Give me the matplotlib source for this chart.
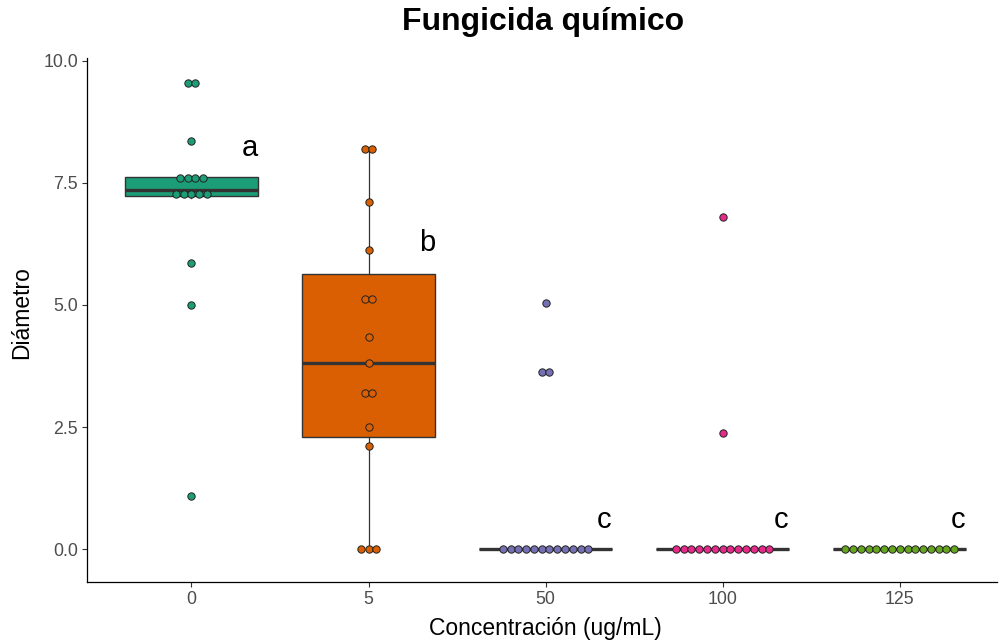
# Boxplot + dotplot of diameter vs. fungicide concentration

import numpy as np
import matplotlib
matplotlib.use('Agg')
import matplotlib.pyplot as plt

plt.rcParams['font.family'] = ['Liberation Sans', 'DejaVu Sans']

# groups and values
conc = ['0', '5', '50', '100', '125']
colors = ['#1B9E77', '#D95F02', '#7570B3', '#E7298A', '#66A61E']

d_0 = [1.08, 5.0, 5.85, 7.2, 7.25, 7.3, 7.35, 7.35, 7.55, 7.6, 7.6, 7.65, 8.35, 9.55, 9.55]
d_5 = [0, 0, 0, 2.12, 2.49, 3.2, 3.2, 3.82, 4.34, 5.12, 5.12, 6.13, 7.1, 8.2, 8.2]
d_50 = [0] * 12 + [3.63, 3.63, 5.05]
d_100 = [0] * 13 + [2.38, 6.81]
d_125 = [0] * 15
data = [d_0, d_5, d_50, d_100, d_125]

# letters of the mean comparison
letters = ['a', 'b', 'c', 'c', 'c']
letter_y = [8.05, 6.11, 0.43, 0.43, 0.43]

binwidth = 0.3
dot_step = 0.044  # horizontal spacing of stacked dots (x units)


def dot_bins(vals):
    # simple dot-density binning like geom_dotplot(binaxis='y')
    vals = sorted(vals)
    bins = []
    cur = [vals[0]]
    for v in vals[1:]:
        if v - cur[0] <= binwidth:
            cur.append(v)
        else:
            bins.append(cur)
            cur = [v]
    bins.append(cur)
    return [((b[0] + b[-1]) / 2.0, len(b)) for b in bins]


fig = plt.figure(figsize=(9.99, 6.41), dpi=100)
ax = fig.add_axes([0.0871, 0.092, 0.911, 0.8175])

pos = np.arange(len(conc))
bp = ax.boxplot(data, positions=pos, widths=0.75, patch_artist=True,
                showfliers=False, whis=1.5,
                boxprops=dict(edgecolor='#333333', linewidth=1.0),
                medianprops=dict(color='#333333', linewidth=2.4),
                whiskerprops=dict(color='#333333', linewidth=0.9),
                capprops=dict(linewidth=0), zorder=2)
for patch, c in zip(bp['boxes'], colors):
    patch.set_facecolor(c)

for i, vals in enumerate(data):
    for yb, n in dot_bins(vals):
        xs = pos[i] + (np.arange(n) - (n - 1) / 2.0) * dot_step
        ax.scatter(xs, [yb] * n, s=28, color=colors[i], edgecolors='#222222',
                   linewidths=0.7, zorder=4)

for i, lab in enumerate(letters):
    ax.text(pos[i] + 0.33, letter_y[i], lab, fontsize=21, ha='center',
            va='baseline', color='black', zorder=5)

ax.set_xlim(-0.59, 4.55)
ax.set_ylim(-0.676, 10.06)
ax.set_xticks(pos)
ax.set_xticklabels(conc)
ax.set_yticks([0, 2.5, 5.0, 7.5, 10.0])
ax.set_yticklabels(['0.0', '2.5', '5.0', '7.5', '10.0'])
ax.tick_params(axis='both', colors='#333333', labelcolor='#4D4D4D',
               labelsize=12.8, length=3.5, width=0.8, pad=3)

for side in ['top', 'right']:
    ax.spines[side].set_visible(False)
for side in ['left', 'bottom']:
    ax.spines[side].set_color('black')
    ax.spines[side].set_linewidth(0.9)

fig.text(543 / 999, 1 - 22 / 641, 'Fungicida químico', fontsize=23,
         fontweight='bold', ha='center', va='center')
fig.text(545 / 999, 1 - 628 / 641, 'Concentración (ug/mL)', fontsize=16.5,
         ha='center', va='center')
fig.text(22 / 999, 1 - 313 / 641, 'Diámetro', fontsize=16.5, rotation=90,
         ha='center', va='center')

fig.savefig('out.png', dpi=100)
